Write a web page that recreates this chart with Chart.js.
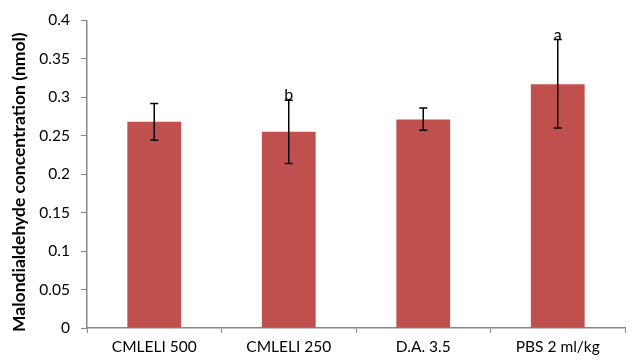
<!DOCTYPE html>
<html>
<head>
<meta charset="utf-8">
<script src="https://cdn.jsdelivr.net/npm/chart.js@4/dist/chart.umd.min.js"></script>
<style>
  html, body { margin: 0; padding: 0; background: #fff; }
  #wrap { width: 641px; height: 361px; }
</style>
</head>
<body>
<div id="wrap"><canvas id="c" width="641" height="361"></canvas></div>
<script>
// Treatment groups and MDA means with SD range
const groups = ['CMLELI 500', 'CMLELI 250', 'D.A. 3.5', 'PBS 2 ml/kg'];
const mdaMean = [0.268, 0.255, 0.271, 0.317];
const errLow = [0.244, 0.214, 0.257, 0.260];
const errHigh = [0.292, 0.296, 0.286, 0.375];
const sigLetters = ['', 'b', '', 'a'];
const yTicks = ['0', '0.05', '0.1', '0.15', '0.2', '0.25', '0.3', '0.35', '0.4'];
const yTitle = 'Malondialdehyde concentration (nmol)';

const FONT = 'Lato, "Open Sans", sans-serif';

const errorBars = {
  id: 'errorBars',
  afterDatasetsDraw(chart) {
    const ctx = chart.ctx;
    const x = chart.scales.x, y = chart.scales.y;
    ctx.save();
    ctx.strokeStyle = '#000';
    ctx.lineWidth = 1.5;
    groups.forEach((g, i) => {
      const cx = x.getPixelForValue(i);
      const yTop = y.getPixelForValue(errHigh[i]);
      const yBot = y.getPixelForValue(errLow[i]);
      ctx.beginPath();
      ctx.moveTo(cx, yTop); ctx.lineTo(cx, yBot);
      ctx.moveTo(cx - 4, yTop); ctx.lineTo(cx + 4, yTop);
      ctx.moveTo(cx - 4, yBot); ctx.lineTo(cx + 4, yBot);
      ctx.stroke();
      if (sigLetters[i]) {
        ctx.fillStyle = '#000';
        ctx.font = '16px ' + FONT;
        ctx.textAlign = 'center';
        ctx.textBaseline = 'bottom';
        ctx.fillText(sigLetters[i], cx, yTop + 3);
      }
    });
    ctx.restore();
  }
};

// Vertical axis title, centred a little below the plot's middle
const axisTitle = {
  id: 'axisTitle',
  afterDraw(chart) {
    const ctx = chart.ctx;
    const area = chart.chartArea;
    ctx.save();
    ctx.translate(19, (area.top + area.bottom) / 2 + 8);
    ctx.rotate(-Math.PI / 2);
    ctx.fillStyle = '#000';
    ctx.font = 'bold 17.5px ' + FONT;
    ctx.textAlign = 'center';
    ctx.textBaseline = 'middle';
    ctx.fillText(yTitle, 0, 0);
    ctx.restore();
  }
};

new Chart(document.getElementById('c'), {
  type: 'bar',
  data: {
    labels: groups,
    datasets: [{
      data: mdaMean,
      backgroundColor: '#c0504d',
      borderWidth: 0,
      categoryPercentage: 1,
      barPercentage: 0.4
    }]
  },
  options: {
    responsive: false,
    animation: false,
    layout: { padding: { top: 13, right: 16, left: 0, bottom: 0 } },
    plugins: { legend: { display: false }, tooltip: { enabled: false } },
    scales: {
      x: {
        grid: { display: true, drawOnChartArea: false, offset: true, tickLength: 5, color: '#888' },
        border: { color: '#888', width: 1.5 },
        ticks: { color: '#000', font: { family: FONT, size: 15.5 }, padding: 5, maxRotation: 0 },
        afterFit(s) { s.height = 33; }
      },
      y: {
        min: 0, max: 0.4,
        grid: { display: true, drawOnChartArea: false, tickLength: 6, color: '#888' },
        border: { color: '#888', width: 1.5 },
        ticks: {
          stepSize: 0.05,
          color: '#000',
          font: { family: FONT, size: 15.5 },
          padding: 11,
          callback: (v, i) => yTicks[i]
        },
        title: { display: false },
        afterFit(s) { s.width = 87; }
      }
    }
  },
  plugins: [errorBars, axisTitle]
});
</script>
</body>
</html>
